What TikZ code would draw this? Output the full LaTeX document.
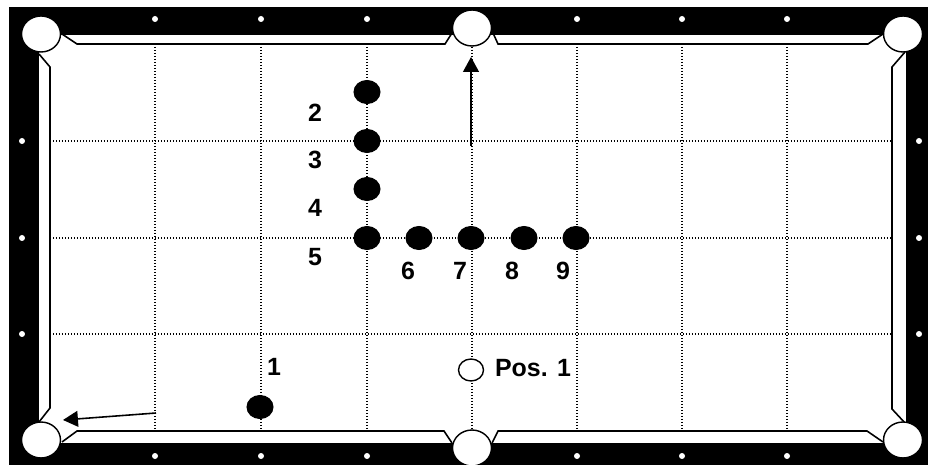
\documentclass[tikz,border=0pt]{standalone}
\usepackage{fontspec}
\setmainfont{Liberation Sans}
\usetikzlibrary{
    shapes.geometric,
    arrows.meta
}
\tikzset{
    ball/.style={ellipse, draw=black, fill=black, line width=0.6pt, minimum width=0.52cm, minimum height=0.46cm, inner sep=0pt},
    cueball/.style={ellipse, draw=black, fill=white, line width=0.8pt, minimum width=0.5cm, minimum height=0.44cm, inner sep=0pt},
    pocket/.style={ellipse, draw=black, fill=white, line width=0.8pt, minimum width=0.78cm, minimum height=0.72cm, inner sep=0pt},
    railmark/.style={circle, fill=white, minimum size=0.12cm, inner sep=0pt},
    gridline/.style={line width=0.7pt, dash pattern=on 0.85pt off 0.857pt},
    cushion/.style={line width=0.9pt, line join=miter},
    shotline/.style={line width=0.9pt, -{Triangle[length=8.5pt,width=9pt]}},
    numlabel/.style={font=\fontsize{14.2}{16}\selectfont\bfseries, inner sep=0pt}
}
\begin{document}
\begin{tikzpicture}[x=0.02cm, y=-0.02cm]
\useasboundingbox (0,0) rectangle (928,465);

% Rail and cloth
\fill[black] (9,7) rectangle (928,465);
\fill[white] (39,35) rectangle (906,443);

% Rail marks
\foreach \x in {155,261,367,577,682,787} {
    \node[railmark] (top\x) at (\x,19) {};
    \node[railmark] (bot\x) at (\x,456) {};
}
\foreach \y in {141,238,334} {
    \node[railmark] (lft\y) at (22,\y) {};
    \node[railmark] (rgt\y) at (919,\y) {};
}

% Grid
\foreach \x in {155,261,367,472,577,682,787} {
    \draw[gridline] (\x,44) -- (\x,431);
}
\foreach \y in {141,238,334} {
    \draw[gridline] (50,\y) -- (892,\y);
}

% Cushions
\draw[cushion] (62,34) -- (77,44) -- (445,44) -- (452,33);
\draw[cushion] (493,33) -- (498,44) -- (868,44) -- (883,34);
\draw[cushion] (62,442) -- (77,431) -- (444,431) -- (452,443);
\draw[cushion] (492,443) -- (498,431) -- (867,431) -- (883,442);
\draw[cushion] (39,54) -- (50,67) -- (50,408) -- (39,422);
\draw[cushion] (905,52) -- (892,67) -- (892,409) -- (905,423);

% Pockets
\node[pocket] (pocketTL) at (41,34) {};
\node[pocket] (pocketTM) at (472,28) {};
\node[pocket] (pocketTR) at (903,34) {};
\node[pocket] (pocketBL) at (41,440) {};
\node[pocket] (pocketBM) at (472,448) {};
\node[pocket] (pocketBR) at (903,440) {};

% Balls
\foreach \n/\x/\y in {1/260/407, 2/367/92, 3/367/141, 4/367/189, 5/367/238, 6/419/238, 7/471/238, 8/524/238, 9/576/238} {
    \node[ball] (ball\n) at (\x,\y) {};
}
\node[cueball] (cue) at (471,370) {};

% Labels
\foreach \n/\x/\y in {1/274/367, 2/315/113, 3/315/160, 4/315/208, 5/315/257, 6/408/271, 7/460/271, 8/512/271, 9/563/271} {
    \node[numlabel] (label\n) at (\x,\y) {\n};
}
\node[numlabel] (labelpos) at (533,368) {Pos. 1};

% Shots
\coordinate (upstart) at (471,146);
\coordinate (upend) at (471,57);
\coordinate (leftstart) at (156,413);
\coordinate (leftend) at (63,420);
\draw[shotline] (upstart) -- (upend);
\draw[shotline] (leftstart) -- (leftend);

\end{tikzpicture}
\end{document}
